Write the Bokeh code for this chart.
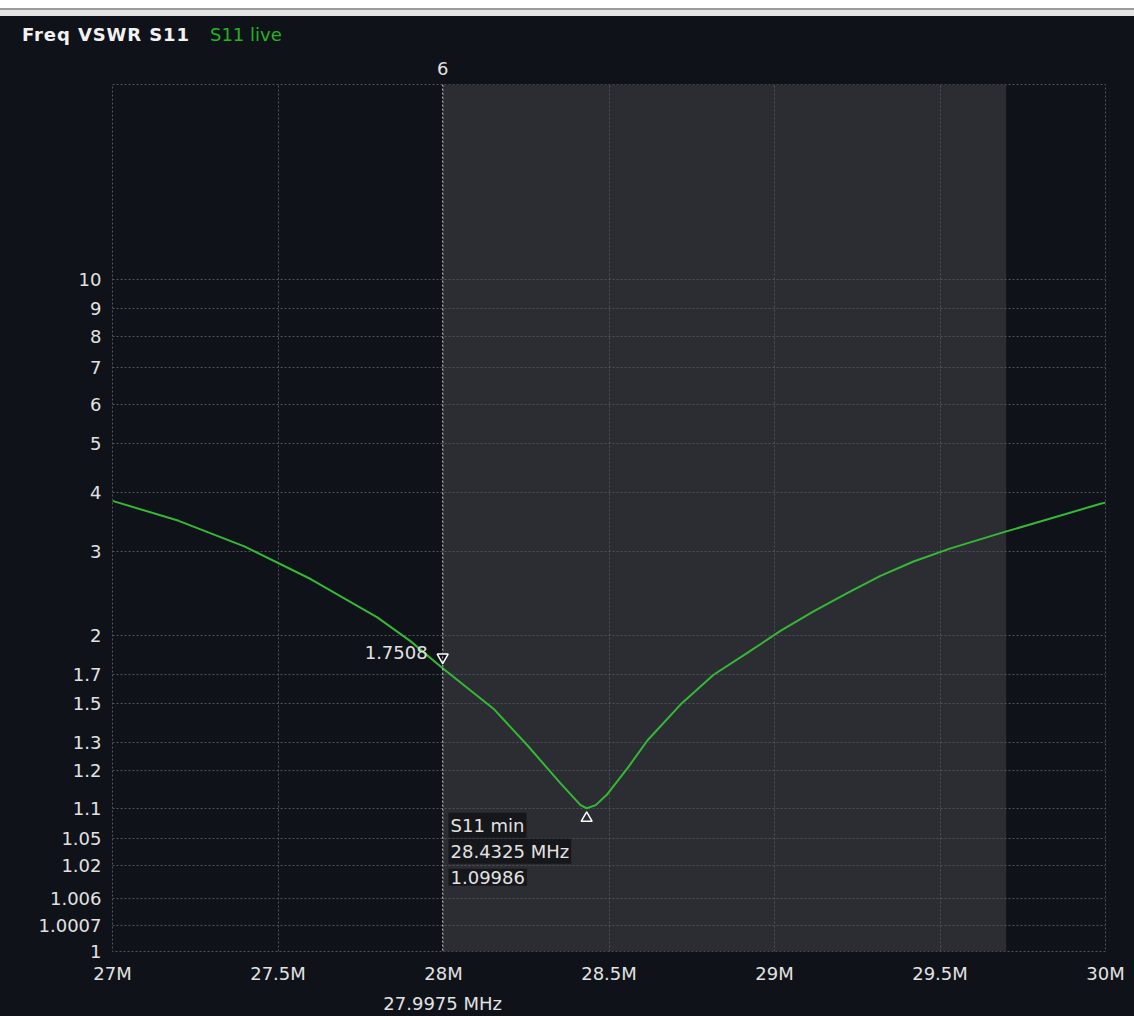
import numpy as np
from bokeh.plotting import figure
from bokeh.models import Range1d, FixedTicker, Label, BoxAnnotation, Span, Div, LinearAxis
from bokeh.layouts import column
from bokeh.embed import file_html
from bokeh.resources import INLINE

# ---------------- data ----------------
FREQ_MHZ = [27.00, 27.20, 27.40, 27.60, 27.80, 27.90, 27.9975, 28.151, 28.254, 28.353,
            28.414, 28.4325, 28.46, 28.495, 28.556, 28.616, 28.716, 28.816, 28.918, 29.018,
            29.118, 29.221, 29.320, 29.420, 29.532, 29.683, 29.834, 29.985, 30.00]
VSWR = [3.86, 3.52, 3.08, 2.67, 2.22, 1.96, 1.7508, 1.474, 1.289, 1.166,
        1.108, 1.09986, 1.108, 1.137, 1.208, 1.31, 1.495, 1.70, 1.869, 2.06,
        2.29, 2.51, 2.71, 2.88, 3.05, 3.31, 3.56, 3.81, 3.83]

TITLE = "Freq VSWR S11"
TRACE_NAME = "S11 live"
MARKER_NAME = "6"
MARKER_FREQ = 27.9975
MARKER_VSWR = 1.7508
MIN_FREQ = 28.4325
MIN_VSWR = 1.09986
BAND_LO, BAND_HI = 28.0, 29.7

X_TICKS = [27, 27.5, 28, 28.5, 29, 29.5, 30]
X_LABELS = ["27M", "27.5M", "28M", "28.5M", "29M", "29.5M", "30M"]
Y_TICKS = [1, 1.0007, 1.006, 1.02, 1.05, 1.1, 1.2, 1.3, 1.5, 1.7, 2, 3, 4, 5, 6, 7, 8, 9, 10]
Y_LABELS = ["1", "1.0007", "1.006", "1.02", "1.05", "1.1", "1.2", "1.3", "1.5", "1.7",
            "2", "3", "4", "5", "6", "7", "8", "9", "10"]

# VSWR axis scale of the instrument: height (px above plot bottom) of each gridline
Y_SCALE_PX = [0, 26, 53, 86, 114, 144, 182, 210, 249, 278, 317, 402, 461, 510, 550, 587, 618, 646, 675]
Y_TOP_PX = 871


def to_u(v):
    return np.interp(v, Y_TICKS, Y_SCALE_PX)


# ---------------- styles ----------------
BG = "#0f1219"
BAND = "#2b2d32"
GRID = "#50535b"
GREEN = "#35b835"
TXT = "#e2e2e2"
FONT = "DejaVu Sans"
FS = "18px"

W = 1134
HEAD_H = 48

p = figure(width=W, height=1016 - HEAD_H, title=None,
           x_range=Range1d(27, 30), y_range=Range1d(0, Y_TOP_PX),
           output_backend="svg", toolbar_location=None,
           min_border_left=112, min_border_right=29, min_border_top=36, min_border_bottom=61,
           background_fill_color=BG, border_fill_color=BG,
           outline_line_color=GRID, outline_line_dash="2 2")

# band
p.add_layout(BoxAnnotation(left=BAND_LO, right=BAND_HI, fill_color=BAND, fill_alpha=1.0,
                           line_color=None, level="image"))


def style_axis(ax, standoff):
    ax.axis_line_color = None
    ax.major_tick_line_color = None
    ax.minor_tick_line_color = None
    ax.major_tick_out = 0
    ax.major_tick_in = 0
    ax.minor_tick_out = 0
    ax.minor_tick_in = 0
    ax.major_label_text_color = TXT
    ax.major_label_text_font = FONT
    ax.major_label_text_font_size = FS
    ax.major_label_standoff = standoff


# axes
p.xaxis.ticker = FixedTicker(ticks=X_TICKS)
p.xaxis.major_label_overrides = {t: l for t, l in zip(X_TICKS, X_LABELS)}
p.yaxis.ticker = FixedTicker(ticks=[float(u) for u in Y_SCALE_PX])
p.yaxis.major_label_overrides = {float(u): l for u, l in zip(Y_SCALE_PX, Y_LABELS)}
style_axis(p.xaxis[0], 11)
style_axis(p.yaxis[0], 11)

# marker name above, marker frequency below
top_ax = LinearAxis(ticker=FixedTicker(ticks=[MARKER_FREQ]),
                    major_label_overrides={MARKER_FREQ: MARKER_NAME})
style_axis(top_ax, 10)
p.add_layout(top_ax, "above")
bot_ax = LinearAxis(ticker=FixedTicker(ticks=[MARKER_FREQ]),
                    major_label_overrides={MARKER_FREQ: f"{MARKER_FREQ} MHz"})
style_axis(bot_ax, 6)
p.add_layout(bot_ax, "below")

# grids
p.xgrid.ticker = FixedTicker(ticks=X_TICKS)
p.ygrid.ticker = FixedTicker(ticks=[float(u) for u in Y_SCALE_PX])
for g in (p.xgrid[0], p.ygrid[0]):
    g.grid_line_color = GRID
    g.grid_line_dash = "2 2"
    g.grid_line_width = 1

# marker line
p.add_layout(Span(location=MARKER_FREQ, dimension="height", line_color="#cfcfcf",
                  line_dash="2 2", line_width=1))

# curve
p.line(FREQ_MHZ, to_u(VSWR), line_color=GREEN, line_width=2, line_join="round")

# marker triangles
p.scatter([MARKER_FREQ], [to_u(MARKER_VSWR) + 11], marker="inverted_triangle", size=11,
          fill_color=BG, line_color="white", line_width=1.5)
p.scatter([MIN_FREQ], [to_u(MIN_VSWR) - 10], marker="triangle", size=11,
          fill_color=BAND, line_color="white", line_width=1.5)

# marker value
p.add_layout(Label(x=MARKER_FREQ, y=to_u(MARKER_VSWR), x_offset=-15, y_offset=16,
                   text=f"{MARKER_VSWR}", text_align="right", text_baseline="middle",
                   text_color=TXT, text_font=FONT, text_font_size=FS))

# S11 min read-out
min_lines = ["S11 min", f"{MIN_FREQ} MHz", f"{MIN_VSWR}"]
for i, t in enumerate(min_lines):
    p.add_layout(Label(x=BAND_LO, y=to_u(MIN_VSWR), x_offset=5, y_offset=-17 - 26 * i,
                       text=t, text_align="left", text_baseline="middle",
                       text_color=TXT, text_font=FONT, text_font_size=FS,
                       background_fill_color="#16171b", background_fill_alpha=1.0,
                       padding=2))

# header: window edge strip + title
head_html = (
    f'<div style="padding:25px 0 0 22px; font-family:\'DejaVu Sans\'; font-size:18px; '
    f'line-height:20px; white-space:nowrap;">'
    f'<span style="font-weight:bold; color:#f2f2f2; letter-spacing:0.9px;">{TITLE}</span>'
    f'<span style="color:#22b422; margin-left:20px;">{TRACE_NAME}</span></div>'
)
head = Div(text=head_html, width=W, height=HEAD_H, margin=0,
           styles={"background": f"linear-gradient(#ffffff 0px, #ffffff 8px, #9c9c9c 8px, "
                                 f"#9c9c9c 10px, #e4e4e4 10px, #e4e4e4 16px, {BG} 16px, {BG} 100%)"})

layout = column(head, p, spacing=0, styles={"background-color": BG})
open("out.html", "w").write(file_html(layout, INLINE))
